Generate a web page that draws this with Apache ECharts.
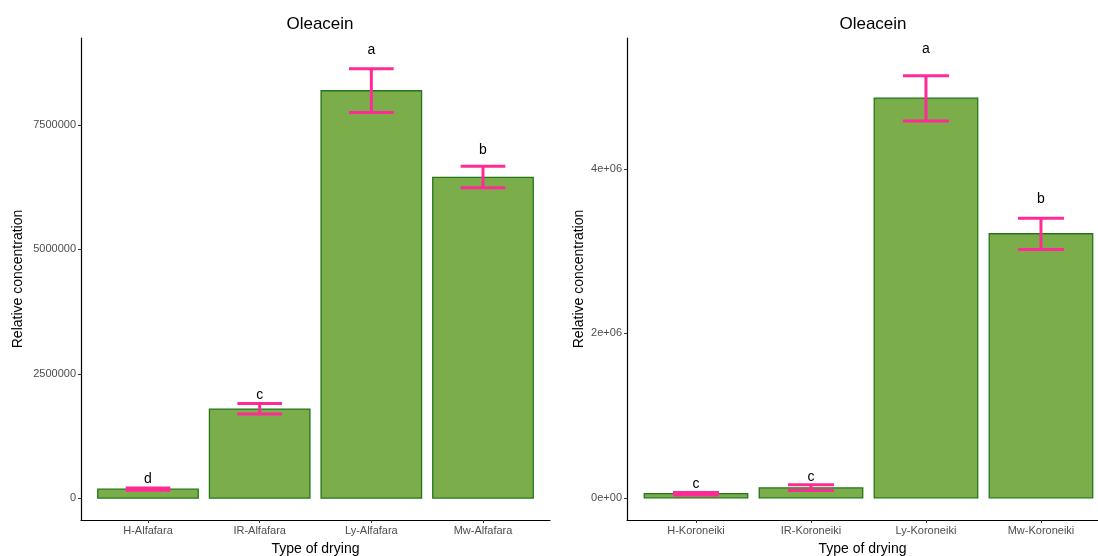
<!DOCTYPE html>
<html>
<head>
<meta charset="utf-8">
<script src="https://cdn.jsdelivr.net/npm/echarts@6/dist/echarts.min.js"></script>
<style>html,body{margin:0;padding:0;background:#fff;}#c{width:1098px;height:556px;}</style>
</head>
<body>
<div id="c"></div>
<script>
// ---- Data ----
var titleText = 'Oleacein';
var xAxisTitle = 'Type of drying';
var yAxisTitle = 'Relative concentration';

var catsA = ['H-Alfafara', 'IR-Alfafara', 'Ly-Alfafara', 'Mw-Alfafara'];
var meanA = [180000, 1790000, 8190000, 6450000];
var lowA  = [160000, 1690000, 7750000, 6240000];
var highA = [205000, 1900000, 8630000, 6670000];
var letterA = ['d', 'c', 'a', 'b'];
var letterPosA = [380000, 2080000, 9000000, 7000000];
var ticksA = [0, 2500000, 5000000, 7500000];
var tickLabelsA = ['0', '2500000', '5000000', '7500000'];

var catsB = ['H-Koroneiki', 'IR-Koroneiki', 'Ly-Koroneiki', 'Mw-Koroneiki'];
var meanB = [50000, 120000, 4860000, 3210000];
var lowB  = [35000, 90000, 4580000, 3020000];
var highB = [65000, 160000, 5130000, 3400000];
var letterB = ['c', 'c', 'a', 'b'];
var letterPosB = [160000, 250000, 5450000, 3630000];
var ticksB = [0, 2000000, 4000000];
var tickLabelsB = ['0e+00', '2e+06', '4e+06'];

var catPositions = [1, 2, 3, 4];

// ---- Styles ----
var fillCol = '#7BAD4B';
var edgeCol = '#23761A';
var errCol = '#FF2A96';
var tickTxt = '#4D4D4D';
var font = 'Liberation Sans, Arial, sans-serif';

function rowsOf(means) { return means.map(function (v, i) { return [catPositions[i], v, i]; }); }

function barRender(params, api) {
  var x = api.value(0), v = api.value(1);
  var p1 = api.coord([x - 0.45, v]);
  var p2 = api.coord([x + 0.45, 0]);
  return {
    type: 'rect',
    shape: { x: p1[0], y: p1[1], width: p2[0] - p1[0], height: p2[1] - p1[1] },
    style: { fill: fillCol, stroke: edgeCol, lineWidth: 1.3 }
  };
}
function errRender(lows, highs) {
  return function (params, api) {
    var x = api.value(0), i = api.value(2);
    var top = api.coord([x, highs[i]]);
    var bot = api.coord([x, lows[i]]);
    var l = api.coord([x - 0.2, 0])[0], r = api.coord([x + 0.2, 0])[0];
    var st = { stroke: errCol, lineWidth: 3 };
    return {
      type: 'group',
      children: [
        { type: 'line', shape: { x1: top[0], y1: top[1], x2: bot[0], y2: bot[1] }, style: st },
        { type: 'line', shape: { x1: l, y1: top[1], x2: r, y2: top[1] }, style: st },
        { type: 'line', shape: { x1: l, y1: bot[1], x2: r, y2: bot[1] }, style: st }
      ]
    };
  };
}
function letterRender(letters, pos) {
  return function (params, api) {
    var x = api.value(0), i = api.value(2);
    var p = api.coord([x, pos[i]]);
    return {
      type: 'text',
      style: { x: p[0], y: p[1], text: letters[i], fill: '#000', font: '14px ' + font, textAlign: 'center', textVerticalAlign: 'middle' }
    };
  };
}

function xAxisCfg(cats, gi, mx) {
  return {
    type: 'value', gridIndex: gi, min: 0.4, max: mx,
    name: xAxisTitle, nameLocation: 'middle', nameGap: 22,
    nameTextStyle: { color: '#000', fontSize: 14, fontFamily: font },
    axisLine: { show: true, onZero: false, lineStyle: { color: '#000', width: 1.2 } },
    axisTick: { show: true, length: 3, customValues: catPositions, lineStyle: { color: '#333' } },
    axisLabel: {
      color: tickTxt, fontSize: 11, fontFamily: font, margin: 5, customValues: catPositions,
      formatter: function (v) { var k = catPositions.indexOf(v); return k >= 0 ? cats[k] : ''; }
    },
    splitLine: { show: false }
  };
}
function yAxisCfg(gi, mn, mx, ticks, labels, gap) {
  return {
    type: 'value', gridIndex: gi, min: mn, max: mx,
    name: yAxisTitle, nameLocation: 'middle', nameGap: gap, nameRotate: 90,
    nameTextStyle: { color: '#000', fontSize: 14, fontFamily: font },
    axisLine: { show: true, onZero: false, lineStyle: { color: '#000', width: 1.2 } },
    axisTick: { show: true, length: 3, customValues: ticks, lineStyle: { color: '#333' } },
    axisLabel: {
      color: tickTxt, fontSize: 11, fontFamily: font, margin: 5, customValues: ticks,
      formatter: function (v) { var k = ticks.indexOf(v); return k >= 0 ? labels[k] : ''; }
    },
    splitLine: { show: false }
  };
}

var chart = echarts.init(document.getElementById('c'));
chart.setOption({
  animation: false,
  backgroundColor: '#fff',
  title: [
    { text: titleText, left: 315, top: 11, textAlign: 'center', textStyle: { fontSize: 17, fontWeight: 'normal', color: '#000', fontFamily: font } },
    { text: titleText, left: 868, top: 11, textAlign: 'center', textStyle: { fontSize: 17, fontWeight: 'normal', color: '#000', fontFamily: font } }
  ],
  grid: [
    { left: 81, right: 548, top: 38, bottom: 36, containLabel: false, outerBoundsMode: 'none' },
    { left: 627, right: 0, top: 38, bottom: 36, containLabel: false, outerBoundsMode: 'none' }
  ],
  xAxis: [xAxisCfg(catsA, 0, 4.6), xAxisCfg(catsB, 1, 4.496)],
  yAxis: [
    yAxisCfg(0, -440000, 9250000, ticksA, tickLabelsA, 56),
    yAxisCfg(1, -270000, 5590000, ticksB, tickLabelsB, 41)
  ],
  series: [
    { type: 'custom', xAxisIndex: 0, yAxisIndex: 0, data: rowsOf(meanA), renderItem: barRender, z: 3 },
    { type: 'custom', xAxisIndex: 1, yAxisIndex: 1, data: rowsOf(meanB), renderItem: barRender, z: 3 },
    { type: 'custom', xAxisIndex: 0, yAxisIndex: 0, data: rowsOf(meanA), renderItem: errRender(lowA, highA), z: 5 },
    { type: 'custom', xAxisIndex: 1, yAxisIndex: 1, data: rowsOf(meanB), renderItem: errRender(lowB, highB), z: 5 },
    { type: 'custom', xAxisIndex: 0, yAxisIndex: 0, data: rowsOf(meanA), renderItem: letterRender(letterA, letterPosA), z: 6 },
    { type: 'custom', xAxisIndex: 1, yAxisIndex: 1, data: rowsOf(meanB), renderItem: letterRender(letterB, letterPosB), z: 6 }
  ]
});
</script>
</body>
</html>
